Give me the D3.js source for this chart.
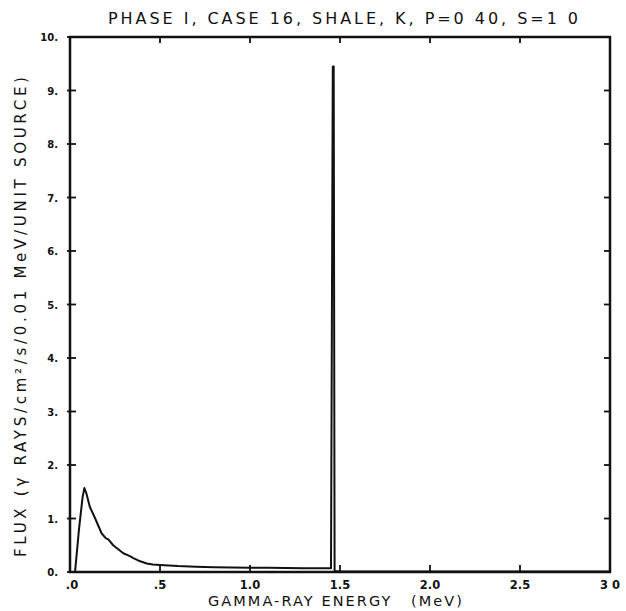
<!DOCTYPE html>
<html><head><meta charset="utf-8">
<script src="https://cdn.jsdelivr.net/npm/d3@7"></script>
<style>body{margin:0;background:#fff}svg{display:block}text{font-family:"DejaVu Sans",sans-serif;fill:#111}</style>
</head><body><svg id="c" width="626" height="611"></svg>
<script>
const energy = [0.00,0.02,0.028,0.05,0.07,0.08,0.09,0.11,0.14,0.176,0.20,0.213,0.24,0.27,0.296,0.33,0.352,0.39,0.426,0.46,0.50,0.55,0.60,0.70,0.80,0.90,1.00,1.10,1.20,1.30,1.40,1.45,1.46,1.465,1.47,1.50,2.0,2.5,3.0];
const flux   = [0.00,0.00,0.00,0.80,1.40,1.57,1.48,1.22,1.00,0.72,0.63,0.61,0.50,0.42,0.35,0.30,0.26,0.20,0.16,0.14,0.13,0.12,0.11,0.10,0.09,0.085,0.08,0.08,0.075,0.07,0.07,0.07,9.45,9.45,0.02,0.01,0.01,0.01,0.01];
const xTicks = [0,0.5,1.0,1.5,2.0,2.5,3.0];
const xTickLabels = [".0",".5","1.0","1.5","2.0","2.5","3 0"];
const yTicks = [0,1,2,3,4,5,6,7,8,9,10];
const yTickLabels = ["0.","1.","2.","3.","4.","5.","6.","7.","8.","9.","10."];
const title = "PHASE I, CASE 16, SHALE, K, P=0 40, S=1 0";
const xTitle = "GAMMA-RAY ENERGY\u2002\u2002(MeV)";
const yTitle = "FLUX (\u03b3 RAYS/cm\u00b2/s/0.01 MeV/UNIT SOURCE)";

const svg = d3.select("#c");
const L=70, R=610, T=37, B=572;
const x = d3.scaleLinear().domain([0,3]).range([L,R]);
const y = d3.scaleLinear().domain([0,10]).range([B,T]);

svg.append("rect").attr("x",L).attr("y",T).attr("width",R-L).attr("height",B-T)
  .attr("fill","none").attr("stroke","#111").attr("stroke-width",2.5);

const g = svg.append("g").attr("stroke","#111").attr("stroke-width",1.8);
xTicks.forEach(v=>{
  g.append("line").attr("x1",x(v)).attr("x2",x(v)).attr("y1",T).attr("y2",T+6);
  g.append("line").attr("x1",x(v)).attr("x2",x(v)).attr("y1",B).attr("y2",B-7);
});
yTicks.forEach(v=>{
  g.append("line").attr("x1",L-3).attr("x2",L+6).attr("y1",y(v)).attr("y2",y(v));
  g.append("line").attr("x1",R).attr("x2",R-6).attr("y1",y(v)).attr("y2",y(v));
});

svg.append("g").selectAll("text").data(xTicks).join("text")
  .attr("x",d=>x(d)+(d===0?2:0)).attr("y",589).attr("text-anchor","middle")
  .attr("font-size",11.5).attr("font-weight","bold")
  .text((d,i)=>xTickLabels[i]);
svg.append("g").selectAll("text").data(yTicks).join("text")
  .attr("x",L-12).attr("y",d=>y(d)+4).attr("text-anchor","end")
  .attr("font-size",10).attr("font-weight","bold")
  .text((d,i)=>yTickLabels[i]);

svg.append("text").attr("x",108).attr("y",24).attr("font-size",16)
  .attr("textLength",470).attr("lengthAdjust","spacing").text(title);
svg.append("text").attr("x",208).attr("y",606).attr("font-size",14.5)
  .attr("textLength",254).attr("lengthAdjust","spacing").text(xTitle);
svg.append("text").attr("transform","translate(26,557) rotate(-90)").attr("font-size",15)
  .attr("textLength",480).attr("lengthAdjust","spacing").text(yTitle);

const line = d3.line().x((d,i)=>x(energy[i])).y((d,i)=>y(flux[i]));
svg.append("path").datum(flux).attr("d",line).attr("fill","none")
  .attr("stroke","#111").attr("stroke-width",2).attr("stroke-linejoin","round");
</script></body></html>
